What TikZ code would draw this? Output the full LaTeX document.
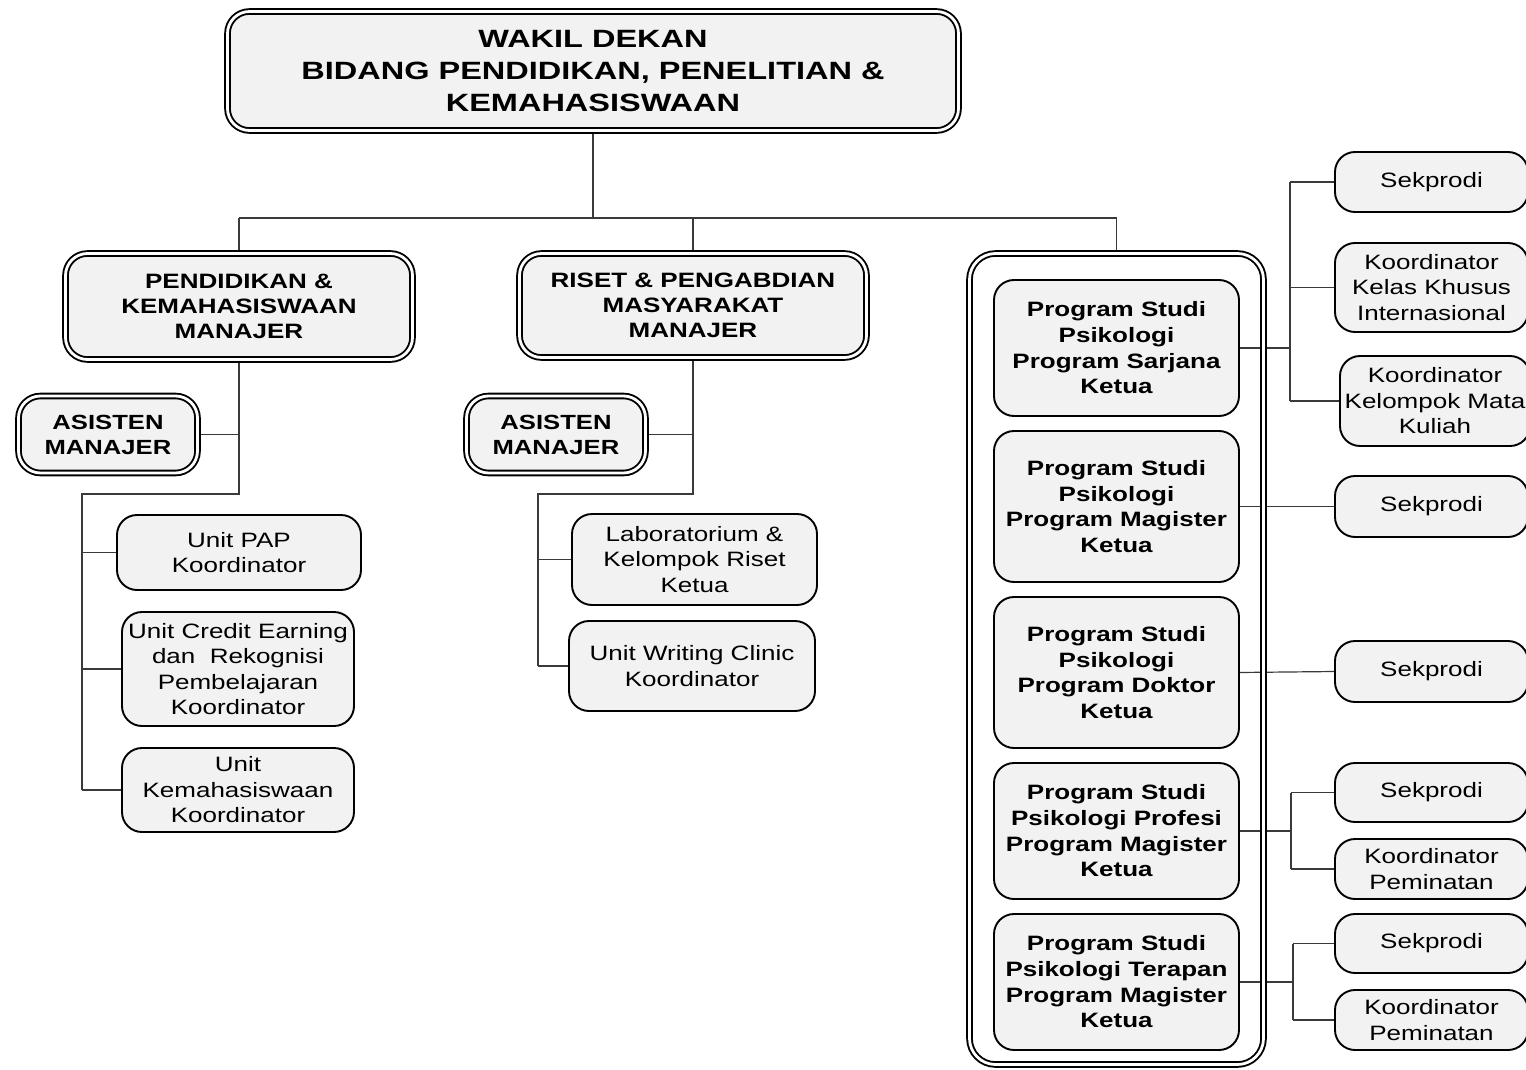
\documentclass[tikz,border=0pt]{standalone}
\usepackage{fontspec}
\setmainfont{Liberation Sans}[FakeStretch=1.25]
\newfontfamily\topfont{Liberation Sans}[FakeStretch=1.3]
\pgfdeclarelayer{bg}
\pgfsetlayers{bg,main}
\definecolor{boxfill}{HTML}{F2F2F2}
\definecolor{linec}{HTML}{3A3A3A}
\tikzset{
  box/.style={draw=black, fill=boxfill, line width=1.9pt, rounded corners=20pt,
    align=center, inner sep=0pt, outer sep=0pt,
    font=\fontsize{20.8}{25.5}\selectfont},
  boldbox/.style={box, font=\fontsize{20.8}{25.7}\selectfont\bfseries},
  dblbox/.style={draw=black, fill=boxfill, line width=1.9pt, double=white,
    double distance=2.8pt, rounded corners=22pt, align=center, inner sep=0pt,
    outer sep=0pt},
  conn/.style={draw=linec, line width=1.2pt}
}
\begin{document}
\begin{tikzpicture}[x=1pt,y=-1pt]
\useasboundingbox (0,0) rectangle (1526,1070);

% top
\node[dblbox, minimum width=731pt, minimum height=119pt,
  font=\fontsize{25}{32}\selectfont\topfont\bfseries] (top) at (593,71)
  {WAKIL DEKAN\\BIDANG PENDIDIKAN, PENELITIAN \&\\KEMAHASISWAAN};

% managers
\node[dblbox, minimum width=347pt, minimum height=106pt,
  font=\fontsize{20.8}{25}\selectfont\bfseries] (m1) at (239,306.5)
  {PENDIDIKAN \&\\KEMAHASISWAAN\\MANAJER};
\node[dblbox, minimum width=347pt, minimum height=104pt,
  font=\fontsize{20.8}{25}\selectfont\bfseries] (m2) at (693,305.5)
  {RISET \& PENGABDIAN\\MASYARAKAT\\MANAJER};
\node[dblbox, minimum width=294pt, minimum height=811pt, fill=none,
  rounded corners=26pt] (cont) at (1116.5,659) {};

% asisten
\node[dblbox, minimum width=179pt, minimum height=77pt,
  font=\fontsize{20.5}{25}\selectfont\bfseries] (aL) at (108,434.5)
  {ASISTEN\\MANAJER};
\node[dblbox, minimum width=179pt, minimum height=77pt,
  font=\fontsize{20.5}{25}\selectfont\bfseries] (aM) at (556,434.5)
  {ASISTEN\\MANAJER};

% left units
\node[box, minimum width=244pt, minimum height=75pt] (u1) at (239,552.5)
  {Unit PAP\\Koordinator};
\node[box, minimum width=232pt, minimum height=114pt] (u2) at (238,669)
  {Unit Credit Earning\\dan\ \ Rekognisi\\Pembelajaran\\Koordinator};
\node[box, minimum width=232pt, minimum height=84pt] (u3) at (238,790)
  {Unit\\Kemahasiswaan\\Koordinator};

% middle units
\node[box, minimum width=245pt, minimum height=91pt] (r1) at (694.5,559.5)
  {Laboratorium \&\\Kelompok Riset\\Ketua};
\node[box, minimum width=246pt, minimum height=90pt] (r2) at (692,666)
  {Unit Writing Clinic\\Koordinator};

% program studi
\node[boldbox, minimum width=245pt, minimum height=136pt] (p1) at (1116.5,348)
  {Program Studi\\Psikologi\\Program Sarjana\\Ketua};
\node[boldbox, minimum width=245pt, minimum height=151pt] (p2) at (1116.5,506.5)
  {Program Studi\\Psikologi\\Program Magister\\Ketua};
\node[boldbox, minimum width=245pt, minimum height=151pt] (p3) at (1116.5,672.5)
  {Program Studi\\Psikologi\\Program Doktor\\Ketua};
\node[boldbox, minimum width=245pt, minimum height=136pt] (p4) at (1116.5,831)
  {Program Studi\\Psikologi Profesi\\Program Magister\\Ketua};
\node[boldbox, minimum width=245pt, minimum height=136pt] (p5) at (1116.5,982)
  {Program Studi\\Psikologi Terapan\\Program Magister\\Ketua};

% right boxes
\node[box, minimum width=193pt, minimum height=60pt] (s1) at (1431.5,182) {Sekprodi};
\node[box, minimum width=193pt, minimum height=89pt] (k1) at (1431.5,287.5)
  {Koordinator\\Kelas Khusus\\Internasional};
\node[box, minimum width=190pt, minimum height=90pt] (k2) at (1435,401)
  {Koordinator\\Kelompok Mata\\Kuliah};
\node[box, minimum width=193pt, minimum height=61pt] (s2) at (1431.5,506.5) {Sekprodi};
\node[box, minimum width=193pt, minimum height=61pt] (s3) at (1431.5,671.5) {Sekprodi};
\node[box, minimum width=193pt, minimum height=59pt] (s4) at (1431.5,792.5) {Sekprodi};
\node[box, minimum width=193pt, minimum height=60pt] (k4) at (1431.5,869)
  {Koordinator\\Peminatan};
\node[box, minimum width=193pt, minimum height=59pt] (s5) at (1431.5,943.5) {Sekprodi};
\node[box, minimum width=193pt, minimum height=60pt] (k5) at (1431.5,1020)
  {Koordinator\\Peminatan};

% connector coordinates
\coordinate (busL) at (239,218);
\coordinate (busR) at (1116.5,218);
\coordinate (lA) at (239,494);
\coordinate (lB) at (82,494);
\coordinate (lC) at (82,790);
\coordinate (mA) at (693,494);
\coordinate (mB) at (538,494);
\coordinate (mC) at (538,666);
\coordinate (rA) at (1290,182);
\coordinate (rB) at (1290,401);
\coordinate (rC) at (1291,792.5);
\coordinate (rD) at (1291,869);
\coordinate (rE) at (1293,943.5);
\coordinate (rF) at (1293,1020);

\begin{pgfonlayer}{bg}
\draw[conn] (busL) -- (busR);
\draw[conn] (top.south) -- (top.south |- busL);
\draw[conn] (m1.north) -- (m1.north |- busL);
\draw[conn] (m2.north) -- (m2.north |- busL);
\draw[conn] (cont.north) -- (cont.north |- busL);
% left tree
\draw[conn] (m1.south) -- (lA) -- (lB) -- (lC);
\draw[conn] (aL.east) -- (aL.east -| lA);
\draw[conn] (u1.west) -- (u1.west -| lB);
\draw[conn] (u2.west) -- (u2.west -| lB);
\draw[conn] (u3.west) -- (u3.west -| lB);
% middle tree
\draw[conn] (m2.south) -- (mA) -- (mB) -- (mC);
\draw[conn] (aM.east) -- (aM.east -| mA);
\draw[conn] (r1.west) -- (r1.west -| mB);
\draw[conn] (r2.west) -- (r2.west -| mB);
% right
\draw[conn] (p1.east) -- (p1.east -| rA);
\draw[conn] (rA) -- (rB);
\draw[conn] (s1.west) -- (rA);
\draw[conn] (k1.west) -- (k1.west -| rA);
\draw[conn] (k2.west) -- (rB);
\draw[conn] (p2.east) -- (s2.west);
\draw[conn] (p3.east) -- (s3.west);
\draw[conn] (p4.east) -- (p4.east -| rC);
\draw[conn] (rC) -- (rD);
\draw[conn] (s4.west) -- (rC);
\draw[conn] (k4.west) -- (rD);
\draw[conn] (p5.east) -- (p5.east -| rE);
\draw[conn] (rE) -- (rF);
\draw[conn] (s5.west) -- (rE);
\draw[conn] (k5.west) -- (rF);
\end{pgfonlayer}
\end{tikzpicture}
\end{document}
